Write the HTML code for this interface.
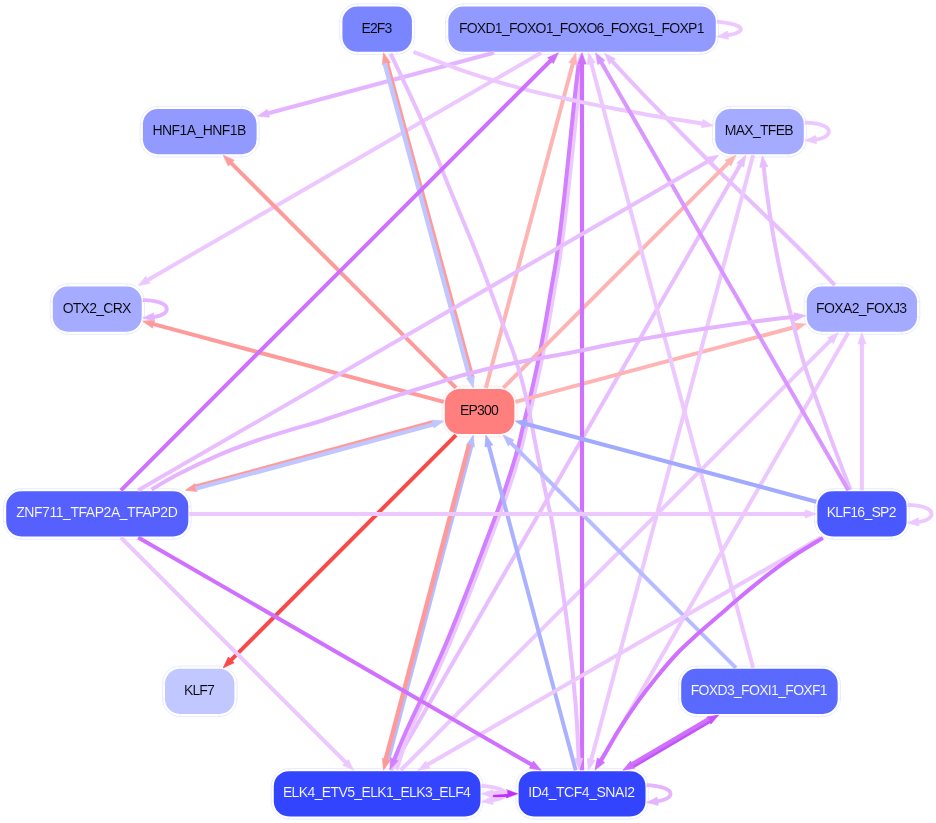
<!DOCTYPE html>
<html><head><meta charset="utf-8"><title>TF network</title>
<style>
html,body{margin:0;padding:0;background:#fff}
svg{display:block}
text{font-family:"Liberation Sans",sans-serif;font-size:14px;text-anchor:middle}
</style></head><body>
<svg width="936" height="823" viewBox="0 0 936 823">
<rect width="936" height="823" fill="#fff"/>
<defs><filter id="aa" x="0" y="0" width="100%" height="100%" filterUnits="userSpaceOnUse" color-interpolation-filters="sRGB"><feOffset dx="0" dy="0"/></filter></defs>
<g filter="url(#aa)">
<rect x="339.7" y="3.8" width="75.0" height="50.7" rx="18.2" fill="none" stroke="#E4E6FF" stroke-width="0.8"/>
<rect x="342.4" y="6.6" width="69.5" height="45.2" rx="15" fill="#7A86FF"/>
<path d="M357.4 3.8V6.6 M357.4 51.8V54.5 M396.9 3.8V6.6 M396.9 51.8V54.5 M339.7 21.6H342.4 M411.9 21.6H414.7 M339.7 36.8H342.4 M411.9 36.8H414.7" stroke="#E4E6FF" stroke-width="0.7" fill="none"/>
<text x="376.9" y="32.6" fill="#000" stroke="#7A86FF" stroke-width="0.12" textLength="30.8" lengthAdjust="spacing">E2F3</text>
<rect x="445.5" y="3.8" width="273.0" height="50.7" rx="18.2" fill="none" stroke="#E4E6FF" stroke-width="0.8"/>
<rect x="448.3" y="6.6" width="267.5" height="45.2" rx="15" fill="#929AFF"/>
<path d="M463.3 3.8V6.6 M463.3 51.8V54.5 M700.8 3.8V6.6 M700.8 51.8V54.5 M445.5 21.6H448.3 M715.8 21.6H718.5 M445.5 36.8H448.3 M715.8 36.8H718.5" stroke="#E4E6FF" stroke-width="0.7" fill="none"/>
<text x="581.7" y="32.6" fill="#000" stroke="#929AFF" stroke-width="0.12" textLength="245.6" lengthAdjust="spacing">FOXD1_FOXO1_FOXO6_FOXG1_FOXP1</text>
<rect x="712.4" y="106.3" width="94.1" height="50.7" rx="18.2" fill="none" stroke="#E4E6FF" stroke-width="0.8"/>
<rect x="715.2" y="109.0" width="88.6" height="45.2" rx="15" fill="#A5ACFF"/>
<path d="M730.2 106.3V109.0 M730.2 154.2V157.0 M788.8 106.3V109.0 M788.8 154.2V157.0 M712.4 124.0H715.2 M803.8 124.0H806.5 M712.4 139.2H715.2 M803.8 139.2H806.5" stroke="#E4E6FF" stroke-width="0.7" fill="none"/>
<text x="759.2" y="135.0" fill="#000" stroke="#A5ACFF" stroke-width="0.12" textLength="68.8" lengthAdjust="spacing">MAX_TFEB</text>
<rect x="804.1" y="283.7" width="115.7" height="50.7" rx="18.2" fill="none" stroke="#E4E6FF" stroke-width="0.8"/>
<rect x="806.8" y="286.5" width="110.2" height="45.2" rx="15" fill="#A3AAFF"/>
<path d="M821.8 283.7V286.5 M821.8 331.7V334.4 M902.0 283.7V286.5 M902.0 331.7V334.4 M804.1 301.5H806.8 M917.0 301.5H919.8 M804.1 316.7H806.8 M917.0 316.7H919.8" stroke="#E4E6FF" stroke-width="0.7" fill="none"/>
<text x="861.6" y="312.5" fill="#000" stroke="#A3AAFF" stroke-width="0.12" textLength="91.1" lengthAdjust="spacing">FOXA2_FOXJ3</text>
<rect x="814.5" y="488.6" width="94.8" height="50.7" rx="18.2" fill="none" stroke="#E4E6FF" stroke-width="0.8"/>
<rect x="817.3" y="491.3" width="89.3" height="45.2" rx="15" fill="#4A58FF"/>
<path d="M832.3 488.6V491.3 M832.3 536.5V539.3 M891.6 488.6V491.3 M891.6 536.5V539.3 M814.5 506.3H817.3 M906.6 506.3H909.3 M814.5 521.5H817.3 M906.6 521.5H909.3" stroke="#E4E6FF" stroke-width="0.7" fill="none"/>
<text x="861.6" y="517.3" fill="#fff" stroke="#4A58FF" stroke-width="0.12" textLength="69.8" lengthAdjust="spacing">KLF16_SP2</text>
<rect x="678.5" y="666.0" width="162.0" height="50.7" rx="18.2" fill="none" stroke="#E4E6FF" stroke-width="0.8"/>
<rect x="681.2" y="668.8" width="156.5" height="45.2" rx="15" fill="#5A6AFF"/>
<path d="M696.2 666.0V668.8 M696.2 714.0V716.7 M822.7 666.0V668.8 M822.7 714.0V716.7 M678.5 683.8H681.2 M837.7 683.8H840.5 M678.5 699.0H681.2 M837.7 699.0H840.5" stroke="#E4E6FF" stroke-width="0.7" fill="none"/>
<text x="759.2" y="694.8" fill="#fff" stroke="#5A6AFF" stroke-width="0.12" textLength="136.9" lengthAdjust="spacing">FOXD3_FOXI1_FOXF1</text>
<rect x="515.8" y="768.5" width="132.4" height="50.7" rx="18.2" fill="none" stroke="#E4E6FF" stroke-width="0.8"/>
<rect x="518.6" y="771.2" width="126.9" height="45.2" rx="15" fill="#3344FF"/>
<path d="M533.6 768.5V771.2 M533.6 816.4V819.2 M630.5 768.5V771.2 M630.5 816.4V819.2 M515.8 786.2H518.6 M645.5 786.2H648.2 M515.8 801.4H518.6 M645.5 801.4H648.2" stroke="#E4E6FF" stroke-width="0.7" fill="none"/>
<text x="581.7" y="797.2" fill="#fff" stroke="#3344FF" stroke-width="0.12" textLength="106.8" lengthAdjust="spacing">ID4_TCF4_SNAI2</text>
<rect x="271.1" y="768.5" width="212.2" height="50.7" rx="18.2" fill="none" stroke="#E4E6FF" stroke-width="0.8"/>
<rect x="273.8" y="771.2" width="206.7" height="45.2" rx="15" fill="#3344FF"/>
<path d="M288.8 768.5V771.2 M288.8 816.4V819.2 M465.5 768.5V771.2 M465.5 816.4V819.2 M271.1 786.2H273.8 M480.5 786.2H483.3 M271.1 801.4H273.8 M480.5 801.4H483.3" stroke="#E4E6FF" stroke-width="0.7" fill="none"/>
<text x="376.9" y="797.2" fill="#fff" stroke="#3344FF" stroke-width="0.12" textLength="188.0" lengthAdjust="spacing">ELK4_ETV5_ELK1_ELK3_ELF4</text>
<rect x="162.3" y="666.0" width="74.9" height="50.7" rx="18.2" fill="none" stroke="#E4E6FF" stroke-width="0.8"/>
<rect x="165.0" y="668.8" width="69.4" height="45.2" rx="15" fill="#C1C8FF"/>
<path d="M180.0 666.0V668.8 M180.0 714.0V716.7 M219.4 666.0V668.8 M219.4 714.0V716.7 M162.3 683.8H165.0 M234.4 683.8H237.2 M162.3 699.0H165.0 M234.4 699.0H237.2" stroke="#E4E6FF" stroke-width="0.7" fill="none"/>
<text x="199.4" y="694.8" fill="#000" stroke="#C1C8FF" stroke-width="0.12" textLength="30.7" lengthAdjust="spacing">KLF7</text>
<rect x="3.5" y="488.6" width="187.6" height="50.7" rx="18.2" fill="none" stroke="#E4E6FF" stroke-width="0.8"/>
<rect x="6.2" y="491.3" width="182.1" height="45.2" rx="15" fill="#5560FF"/>
<path d="M21.2 488.6V491.3 M21.2 536.5V539.3 M173.3 488.6V491.3 M173.3 536.5V539.3 M3.5 506.3H6.2 M188.3 506.3H191.1 M3.5 521.5H6.2 M188.3 521.5H191.1" stroke="#E4E6FF" stroke-width="0.7" fill="none"/>
<text x="97.0" y="517.3" fill="#fff" stroke="#5560FF" stroke-width="0.12" textLength="161.5" lengthAdjust="spacing">ZNF711_TFAP2A_TFAP2D</text>
<rect x="50.1" y="283.7" width="94.4" height="50.7" rx="18.2" fill="none" stroke="#E4E6FF" stroke-width="0.8"/>
<rect x="52.8" y="286.5" width="88.9" height="45.2" rx="15" fill="#A5ACFF"/>
<path d="M67.8 283.7V286.5 M67.8 331.7V334.4 M126.7 283.7V286.5 M126.7 331.7V334.4 M50.1 301.5H52.8 M141.7 301.5H144.5 M50.1 316.7H52.8 M141.7 316.7H144.5" stroke="#E4E6FF" stroke-width="0.7" fill="none"/>
<text x="97.0" y="312.5" fill="#000" stroke="#A5ACFF" stroke-width="0.12" textLength="68.7" lengthAdjust="spacing">OTX2_CRX</text>
<rect x="140.1" y="106.3" width="119.2" height="50.7" rx="18.2" fill="none" stroke="#E4E6FF" stroke-width="0.8"/>
<rect x="142.9" y="109.0" width="113.7" height="45.2" rx="15" fill="#929AFF"/>
<path d="M157.9 106.3V109.0 M157.9 154.2V157.0 M241.6 106.3V109.0 M241.6 154.2V157.0 M140.1 124.0H142.9 M256.6 124.0H259.3 M140.1 139.2H142.9 M256.6 139.2H259.3" stroke="#E4E6FF" stroke-width="0.7" fill="none"/>
<text x="199.4" y="135.0" fill="#000" stroke="#929AFF" stroke-width="0.12" textLength="94.0" lengthAdjust="spacing">HNF1A_HNF1B</text>
<rect x="442.1" y="386.1" width="75.1" height="50.7" rx="18.2" fill="none" stroke="#FFE2E2" stroke-width="0.8"/>
<rect x="444.8" y="388.9" width="69.6" height="45.2" rx="15" fill="#FF7F7F"/>
<path d="M459.8 386.1V388.9 M459.8 434.1V436.9 M499.4 386.1V388.9 M499.4 434.1V436.9 M442.1 403.9H444.8 M514.4 403.9H517.1 M442.1 419.1H444.8 M514.4 419.1H517.1" stroke="#FFE2E2" stroke-width="0.7" fill="none"/>
<text x="479.3" y="414.9" fill="#000" stroke="#FF7F7F" stroke-width="0.12" textLength="38.8" lengthAdjust="spacing">EP300</text>
</g>
<g stroke-linecap="butt">
<polyline points="481.5,785.8 483.4,786.0 485.3,786.2 487.1,786.4 488.8,786.6 490.4,786.9 492.0,787.2 493.5,787.4 494.9,787.7 496.3,788.1 497.5,788.4 498.7,788.7 499.8,789.1 500.8,789.5 501.7,789.9 502.6,790.3 503.3,790.7 503.9,791.2 504.5,791.6 504.9,792.1 505.2,792.6 505.4,793.1 505.5,793.6 505.5,794.1 505.4,794.6 505.2,795.1 504.8,795.6 504.4,796.1 503.8,796.5 503.2,797.0 502.4,797.4 501.6,797.8 500.7,798.2 499.6,798.6 498.5,799.0 497.3,799.3 496.0,799.6 494.7,799.9 493.2,800.2 492.0,800.5" stroke="#ECC8FF" stroke-width="3.80" fill="none" stroke-linejoin="round"/>
<polygon points="481.5,801.8 492.1,796.3 493.2,804.4" fill="#ECC8FF" stroke="#ECC8FF" stroke-width="0.7" stroke-linejoin="miter"/>
<polygon points="473.3,435.1 474.3,447.0 466.4,444.9" fill="#B6BCFF" stroke="#B6BCFF" stroke-width="0.7" stroke-linejoin="miter"/>
<path d="M388.0 760.9 L471.6 445.2" stroke="#B6BCFF" stroke-width="4.00" fill="none"/>
<path d="M390.8 770.2 L740.7 164.1" stroke="#E8BEFF" stroke-width="4.00" fill="none"/>
<polygon points="745.8,155.2 743.8,167.0 736.7,162.9" fill="#E8BEFF" stroke="#E8BEFF" stroke-width="0.7" stroke-linejoin="miter"/>
<path d="M400.8 770.2 L831.1 339.9" stroke="#ECC8FF" stroke-width="4.00" fill="none"/>
<polygon points="838.3,332.7 833.3,343.5 827.5,337.7" fill="#ECC8FF" stroke="#ECC8FF" stroke-width="0.7" stroke-linejoin="miter"/>
<polygon points="580.6,53.5 584.0,64.9 575.8,64.4" fill="#ECC8FF" stroke="#ECC8FF" stroke-width="0.7" stroke-linejoin="miter"/>
<path d="M396.6 769.6 C398.7 763.4 403.8 745.6 409.3 732.1 C414.8 718.5 423.1 702.9 429.7 688.3 C436.3 673.7 442.9 659.2 449.1 644.6 C455.3 630.0 460.6 616.2 466.7 600.8 C472.8 585.4 479.2 568.4 485.4 552.2 C491.5 536.0 497.9 519.8 503.6 503.6 C509.3 487.4 515.7 467.7 519.4 455.1 C523.1 442.5 523.7 437.4 526.0 428.0 C528.3 418.6 530.7 409.8 533.2 398.8 C535.8 387.8 538.8 374.4 541.3 362.2 C543.8 350.0 546.0 337.9 548.2 325.8 C550.4 313.7 552.4 301.6 554.5 289.4 C556.6 277.2 558.4 268.3 560.6 252.8 C562.8 237.3 564.7 222.0 567.6 196.4 C570.5 170.8 575.7 121.4 577.8 99.3 C579.9 77.2 579.6 69.6 580.0 63.7" stroke="#ECC8FF" stroke-width="4.00" fill="none"/>
<polygon points="517.6,793.8 506.4,797.9 506.4,789.7" fill="#C030F8" stroke="#C030F8" stroke-width="0.7" stroke-linejoin="miter"/>
<path d="M491.7 795.6 L507.4 794.7" stroke="#C030F8" stroke-width="4.00" fill="none"/>
<polyline points="716.9,21.7 719.0,21.9 721.1,22.1 723.1,22.4 725.0,22.7 726.8,23.0 728.5,23.3 730.2,23.6 731.7,23.9 733.1,24.3 734.4,24.7 735.6,25.0 736.7,25.5 737.6,25.9 738.5,26.3 739.2,26.8 739.8,27.2 740.2,27.7 740.6,28.2 740.7,28.7 740.8,29.2 740.7,29.7 740.5,30.2 740.2,30.7 739.7,31.2 739.1,31.7 738.3,32.1 737.5,32.6 736.5,33.0 735.4,33.4 734.2,33.8 732.9,34.1 731.4,34.5 729.9,34.8 728.3,35.2 727.1,35.4" stroke="#ECC8FF" stroke-width="3.80" fill="none" stroke-linejoin="round"/>
<polygon points="716.9,36.7 727.4,31.1 728.5,39.3" fill="#ECC8FF" stroke="#ECC8FF" stroke-width="0.7" stroke-linejoin="miter"/>
<path d="M541.2 52.8 L147.0 280.4" stroke="#ECC8FF" stroke-width="4.00" fill="none"/>
<polygon points="138.2,285.5 145.8,276.3 149.9,283.4" fill="#ECC8FF" stroke="#ECC8FF" stroke-width="0.7" stroke-linejoin="miter"/>
<path d="M494.0 52.8 L267.4 113.5" stroke="#E4B4FF" stroke-width="4.00" fill="none"/>
<polygon points="257.6,116.1 267.3,109.3 269.5,117.2" fill="#E4B4FF" stroke="#E4B4FF" stroke-width="0.7" stroke-linejoin="miter"/>
<polygon points="389.9,769.6 390.5,757.7 398.0,760.9" fill="#D280FF" stroke="#D280FF" stroke-width="0.7" stroke-linejoin="miter"/>
<path d="M578.6 64.5 C577.9 70.2 577.0 76.7 574.6 98.5 C572.2 120.3 567.3 170.0 564.4 195.6 C561.5 221.2 559.6 236.5 557.4 252.0 C555.2 267.5 553.4 276.4 551.3 288.6 C549.2 300.8 547.2 312.9 545.0 325.0 C542.8 337.1 540.6 349.2 538.1 361.4 C535.6 373.6 532.5 387.0 530.0 398.0 C527.5 409.0 525.1 417.8 522.8 427.2 C520.5 436.6 519.9 441.7 516.2 454.3 C512.5 466.9 506.1 486.6 500.4 502.8 C494.7 519.0 488.3 535.2 482.2 551.4 C476.1 567.6 469.6 584.6 463.5 600.0 C457.4 615.4 452.1 629.2 445.9 643.8 C439.7 658.4 433.1 672.9 426.5 687.5 C419.9 702.1 411.5 719.2 406.1 731.3 C400.7 743.4 395.9 755.4 393.9 760.2" stroke="#D280FF" stroke-width="4.00" fill="none"/>
<path d="M848.3 332.7 L600.8 761.4" stroke="#ECC8FF" stroke-width="4.00" fill="none"/>
<polygon points="595.7,770.2 597.7,758.5 604.8,762.6" fill="#ECC8FF" stroke="#ECC8FF" stroke-width="0.7" stroke-linejoin="miter"/>
<polygon points="604.6,53.3 615.3,58.7 609.3,64.3" fill="#E8BEFF" stroke="#E8BEFF" stroke-width="0.7" stroke-linejoin="miter"/>
<path d="M834.8 285.1 C828.4 278.6 809.4 258.8 796.6 246.0 C783.8 233.2 770.8 220.8 757.8 208.3 C744.8 195.8 730.6 182.6 718.9 171.1 C707.2 159.6 698.9 151.0 687.5 139.5 C676.1 128.0 661.0 112.6 650.8 102.1 C640.6 91.6 633.0 83.5 626.5 76.6 C620.0 69.7 614.1 63.4 611.6 60.7" stroke="#E8BEFF" stroke-width="4.00" fill="none"/>
<polygon points="383.5,770.2 382.4,758.3 390.3,760.5" fill="#FF9A9A" stroke="#FF9A9A" stroke-width="0.7" stroke-linejoin="miter"/>
<path d="M469.1 444.5 L385.4 760.2" stroke="#FF9A9A" stroke-width="4.40" fill="none"/>
<polygon points="383.5,52.8 390.3,62.5 382.4,64.7" fill="#FF9A9A" stroke="#FF9A9A" stroke-width="0.7" stroke-linejoin="miter"/>
<path d="M472.5 377.6 L387.0 62.4" stroke="#FF9A9A" stroke-width="4.00" fill="none"/>
<polygon points="185.4,490.3 195.1,483.5 197.2,491.4" fill="#FF9A9A" stroke="#FF9A9A" stroke-width="0.7" stroke-linejoin="miter"/>
<path d="M433.5 422.0 L195.0 486.8" stroke="#FF9A9A" stroke-width="4.00" fill="none"/>
<path d="M456.0 387.9 L230.5 162.4" stroke="#FF9A9A" stroke-width="4.00" fill="none"/>
<polygon points="223.3,155.2 234.1,160.2 228.3,166.0" fill="#FF9A9A" stroke="#FF9A9A" stroke-width="0.7" stroke-linejoin="miter"/>
<path d="M443.8 401.9 L152.6 323.9" stroke="#FF9A9A" stroke-width="4.00" fill="none"/>
<polygon points="142.7,321.2 154.6,320.2 152.5,328.1" fill="#FF9A9A" stroke="#FF9A9A" stroke-width="0.7" stroke-linejoin="miter"/>
<path d="M485.9 387.9 L573.1 62.6" stroke="#FFB4B4" stroke-width="4.00" fill="none"/>
<polygon points="575.7,52.8 576.8,64.7 568.9,62.5" fill="#FFB4B4" stroke="#FFB4B4" stroke-width="0.7" stroke-linejoin="miter"/>
<path d="M503.2 387.9 L728.7 162.4" stroke="#FFB4B4" stroke-width="4.00" fill="none"/>
<polygon points="735.9,155.2 730.9,166.0 725.1,160.2" fill="#FFB4B4" stroke="#FFB4B4" stroke-width="0.7" stroke-linejoin="miter"/>
<path d="M515.4 401.9 L796.0 326.7" stroke="#FFB4B4" stroke-width="4.00" fill="none"/>
<polygon points="805.8,324.1 796.1,331.0 793.9,323.0" fill="#FFB4B4" stroke="#FFB4B4" stroke-width="0.7" stroke-linejoin="miter"/>
<path d="M456.0 435.1 L230.5 660.6" stroke="#F84A4A" stroke-width="4.00" fill="none"/>
<polygon points="223.3,667.8 228.3,657.0 234.1,662.8" fill="#F84A4A" stroke="#F84A4A" stroke-width="0.7" stroke-linejoin="miter"/>
<polyline points="646.6,785.1 648.1,785.2 649.6,785.3 651.0,785.4 652.4,785.6 653.7,785.8 655.1,785.9 656.3,786.1 657.6,786.4 658.8,786.6 659.9,786.8 661.0,787.1 662.0,787.4 663.0,787.7 664.0,788.0 664.9,788.3 665.7,788.7 666.4,789.0 667.2,789.4 667.8,789.8 668.4,790.2 668.9,790.6 669.3,791.1 669.7,791.5 670.0,792.0 670.2,792.5 670.4,793.0 670.5,793.5 670.5,794.0 670.4,794.5 670.3,795.0 670.1,795.5 669.8,796.0 669.4,796.5 669.0,796.9 668.5,797.3 667.9,797.8 667.3,798.1 666.6,798.5 665.8,798.9 665.0,799.2 664.1,799.6 663.2,799.9 662.2,800.2 661.2,800.5 660.1,800.7 659.0,801.0 657.8,801.2 657.2,801.3" stroke="#E4B4FF" stroke-width="3.80" fill="none" stroke-linejoin="round"/>
<polygon points="646.6,802.5 657.2,797.2 658.2,805.3" fill="#E4B4FF" stroke="#E4B4FF" stroke-width="0.7" stroke-linejoin="miter"/>
<path d="M582.0 770.2 L582.0 63.0" stroke="#CF70FF" stroke-width="4.20" fill="none"/>
<polygon points="582.0,52.8 586.1,64.0 577.9,64.0" fill="#CF70FF" stroke="#CF70FF" stroke-width="0.7" stroke-linejoin="miter"/>
<path d="M575.7 770.2 L488.6 445.0" stroke="#AAB2FF" stroke-width="4.00" fill="none"/>
<polygon points="485.9,435.1 492.8,444.9 484.9,447.0" fill="#AAB2FF" stroke="#AAB2FF" stroke-width="0.7" stroke-linejoin="miter"/>
<polygon points="481.5,793.8 492.7,789.7 492.7,797.9" fill="#ECC8FF" stroke="#ECC8FF" stroke-width="0.7" stroke-linejoin="miter"/>
<path d="M507.4 792.0 L491.7 792.9" stroke="#ECC8FF" stroke-width="4.00" fill="none"/>
<polygon points="718.6,715.0 710.9,724.1 706.8,717.0" fill="#C452FA" stroke="#C452FA" stroke-width="0.7" stroke-linejoin="miter"/>
<path d="M632.6 766.5 L710.2 720.8" stroke="#C452FA" stroke-width="4.00" fill="none"/>
<polyline points="804.9,122.6 806.2,122.7 807.4,122.7 808.7,122.8 809.9,122.9 811.0,123.0 812.2,123.1 813.3,123.2 814.4,123.4 815.5,123.5 816.5,123.7 817.5,123.9 818.5,124.1 819.4,124.4 820.3,124.6 821.2,124.9 822.0,125.2 822.8,125.4 823.5,125.8 824.2,126.1 824.9,126.4 825.5,126.8 826.1,127.2 826.6,127.6 827.0,128.0 827.5,128.4 827.8,128.8 828.1,129.3 828.4,129.8 828.6,130.2 828.7,130.7 828.8,131.3 828.8,131.7 828.7,132.2 828.6,132.8 828.5,133.3 828.2,133.7 828.0,134.2 827.6,134.6 827.3,135.1 826.8,135.5 826.3,135.9 825.8,136.3 825.2,136.6 824.6,137.0 823.9,137.3 823.2,137.7 822.4,138.0 821.6,138.2 820.8,138.5 819.9,138.8 819.0,139.0 818.0,139.2 817.0,139.4 816.0,139.6 815.6,139.7" stroke="#ECC8FF" stroke-width="3.80" fill="none" stroke-linejoin="round"/>
<polygon points="804.9,140.6 815.7,135.5 816.5,143.7" fill="#ECC8FF" stroke="#ECC8FF" stroke-width="0.7" stroke-linejoin="miter"/>
<path d="M753.1 155.2 L591.0 760.4" stroke="#ECC8FF" stroke-width="4.00" fill="none"/>
<polygon points="588.4,770.2 587.3,758.3 595.2,760.5" fill="#ECC8FF" stroke="#ECC8FF" stroke-width="0.7" stroke-linejoin="miter"/>
<polyline points="142.8,300.1 144.1,300.1 145.4,300.2 146.6,300.2 147.8,300.3 149.0,300.4 150.1,300.5 151.2,300.7 152.3,300.8 153.4,301.0 154.4,301.2 155.5,301.4 156.4,301.6 157.4,301.8 158.3,302.0 159.1,302.3 160.0,302.6 160.8,302.9 161.5,303.2 162.2,303.5 162.9,303.9 163.5,304.2 164.0,304.6 164.5,305.0 165.0,305.4 165.4,305.8 165.8,306.3 166.1,306.7 166.3,307.2 166.5,307.7 166.7,308.2 166.7,308.7 166.7,309.1 166.7,309.7 166.6,310.2 166.4,310.7 166.2,311.2 165.9,311.6 165.6,312.1 165.2,312.5 164.8,312.9 164.3,313.3 163.8,313.7 163.2,314.1 162.5,314.4 161.9,314.8 161.1,315.1 160.4,315.4 159.6,315.7 158.7,315.9 157.8,316.2 156.9,316.4 155.9,316.7 155.0,316.9 153.9,317.0 153.6,317.1" stroke="#E4B4FF" stroke-width="3.80" fill="none" stroke-linejoin="round"/>
<polygon points="142.8,318.0 153.6,312.9 154.4,321.1" fill="#E4B4FF" stroke="#E4B4FF" stroke-width="0.7" stroke-linejoin="miter"/>
<polygon points="473.3,387.9 466.4,378.1 474.3,376.0" fill="#C0C6FF" stroke="#C0C6FF" stroke-width="0.7" stroke-linejoin="miter"/>
<path d="M384.6 63.1 L469.9 378.3" stroke="#C0C6FF" stroke-width="4.40" fill="none"/>
<polygon points="713.2,125.6 701.5,127.7 702.9,119.6" fill="#ECC8FF" stroke="#ECC8FF" stroke-width="0.7" stroke-linejoin="miter"/>
<path d="M413.5 51.9 C420.9 54.7 443.9 63.9 457.7 68.8 C471.5 73.7 483.4 77.4 496.2 81.3 C509.0 85.2 520.8 88.5 534.6 91.9 C548.4 95.3 565.4 98.7 579.2 101.6 C593.1 104.5 604.9 106.8 617.7 109.2 C630.5 111.6 643.4 114.0 656.2 116.2 C669.0 118.4 686.8 121.0 694.6 122.3 C702.4 123.6 701.7 123.6 703.2 123.8" stroke="#ECC8FF" stroke-width="4.00" fill="none"/>
<polygon points="579.3,769.7 574.6,758.7 582.8,758.3" fill="#E8BEFF" stroke="#E8BEFF" stroke-width="0.7" stroke-linejoin="miter"/>
<path d="M390.6 53.6 C396.0 65.2 412.7 99.7 422.8 122.9 C432.9 146.1 441.9 169.7 451.5 193.0 C461.1 216.3 471.3 240.1 480.2 262.9 C489.1 285.7 499.3 314.8 504.9 330.0 C510.5 345.2 511.3 346.2 514.0 354.3 C516.7 362.4 519.1 370.5 521.3 378.6 C523.5 386.7 525.6 394.8 527.4 402.9 C529.2 411.0 530.7 419.3 532.2 427.2 C533.7 435.1 535.0 442.0 536.6 450.0 C538.2 458.0 540.1 466.7 541.9 475.0 C543.7 483.3 545.4 491.7 547.2 500.0 C549.0 508.3 550.5 512.8 552.6 525.0 C554.8 537.2 557.4 554.5 560.1 573.0 C562.8 591.5 566.2 614.1 568.8 636.2 C571.4 658.3 574.0 684.9 575.7 705.5 C577.4 726.1 578.2 750.5 578.7 759.5" stroke="#E8BEFF" stroke-width="4.00" fill="none"/>
<path d="M735.9 667.8 L510.4 442.3" stroke="#B6BCFF" stroke-width="4.00" fill="none"/>
<polygon points="503.2,435.1 514.0,440.1 508.2,445.9" fill="#B6BCFF" stroke="#B6BCFF" stroke-width="0.7" stroke-linejoin="miter"/>
<path d="M753.1 667.8 L591.0 62.6" stroke="#ECC8FF" stroke-width="4.00" fill="none"/>
<polygon points="588.4,52.8 595.2,62.5 587.3,64.7" fill="#ECC8FF" stroke="#ECC8FF" stroke-width="0.7" stroke-linejoin="miter"/>
<polygon points="622.9,770.2 630.6,761.1 634.7,768.2" fill="#CF70FF" stroke="#CF70FF" stroke-width="0.7" stroke-linejoin="miter"/>
<path d="M709.0 718.7 L631.4 764.4" stroke="#CF70FF" stroke-width="4.00" fill="none"/>
<polyline points="907.6,505.0 908.9,505.0 910.1,505.0 911.3,505.1 912.6,505.2 913.7,505.3 914.9,505.4 916.0,505.5 917.1,505.7 918.2,505.9 919.2,506.0 920.3,506.2 921.2,506.5 922.2,506.7 923.1,506.9 923.9,507.2 924.8,507.5 925.6,507.8 926.3,508.1 927.0,508.4 927.7,508.7 928.3,509.1 928.8,509.5 929.4,509.9 929.8,510.3 930.2,510.7 930.6,511.1 930.9,511.6 931.2,512.1 931.3,512.6 931.5,513.1 931.5,513.6 931.6,514.0 931.5,514.6 931.4,515.1 931.3,515.6 931.0,516.0 930.8,516.5 930.4,517.0 930.0,517.4 929.6,517.8 929.1,518.2 928.6,518.6 928.0,519.0 927.3,519.3 926.7,519.6 925.9,520.0 925.2,520.3 924.4,520.6 923.5,520.8 922.6,521.1 921.7,521.3 920.7,521.5 919.8,521.7 918.7,521.9 918.4,522.0" stroke="#ECC8FF" stroke-width="3.80" fill="none" stroke-linejoin="round"/>
<polygon points="907.6,522.9 918.4,517.8 919.1,526.0" fill="#ECC8FF" stroke="#ECC8FF" stroke-width="0.7" stroke-linejoin="miter"/>
<path d="M861.9 490.3 L861.9 342.9" stroke="#ECC8FF" stroke-width="4.00" fill="none"/>
<polygon points="861.9,332.7 866.0,343.9 857.8,343.9" fill="#ECC8FF" stroke="#ECC8FF" stroke-width="0.7" stroke-linejoin="miter"/>
<path d="M821.0 537.5 L426.9 765.1" stroke="#ECC8FF" stroke-width="4.00" fill="none"/>
<polygon points="418.0,770.2 425.7,761.1 429.8,768.2" fill="#ECC8FF" stroke="#ECC8FF" stroke-width="0.7" stroke-linejoin="miter"/>
<polygon points="762.4,155.8 767.8,166.4 759.7,167.4" fill="#E8BEFF" stroke="#E8BEFF" stroke-width="0.7" stroke-linejoin="miter"/>
<path d="M850.4 489.9 C846.4 479.3 833.9 447.1 826.4 426.6 C818.9 406.1 810.8 384.7 805.1 367.0 C799.4 349.3 796.2 335.1 792.3 320.2 C788.4 305.3 784.9 291.9 781.7 277.7 C778.5 263.5 775.7 249.3 773.2 235.1 C770.7 220.9 768.4 204.1 766.8 192.6 C765.2 181.1 764.1 170.4 763.6 165.9" stroke="#E8BEFF" stroke-width="4.00" fill="none"/>
<path d="M848.3 490.3 L600.8 61.6" stroke="#D996FF" stroke-width="4.00" fill="none"/>
<polygon points="595.7,52.8 604.8,60.4 597.7,64.5" fill="#D996FF" stroke="#D996FF" stroke-width="0.7" stroke-linejoin="miter"/>
<polygon points="595.0,769.7 597.4,758.0 604.4,762.4" fill="#CF70FF" stroke="#CF70FF" stroke-width="0.7" stroke-linejoin="miter"/>
<path d="M822.9 537.9 C818.5 540.6 804.2 549.0 796.6 554.0 C789.0 559.0 783.7 562.8 777.2 567.6 C770.7 572.4 764.3 577.4 757.8 582.6 C751.3 587.8 744.8 593.2 738.3 598.7 C731.8 604.2 725.9 609.5 718.9 615.6 C711.9 621.8 703.0 629.2 696.0 635.6 C689.0 642.0 683.1 647.2 676.6 654.0 C670.1 660.8 663.7 668.5 657.2 676.4 C650.7 684.3 644.3 692.5 637.8 701.6 C631.3 710.7 623.8 722.0 618.3 730.8 C612.8 739.5 607.7 749.1 604.7 754.1 C601.7 759.1 601.1 759.9 600.4 761.0" stroke="#CF70FF" stroke-width="4.00" fill="none"/>
<path d="M816.3 501.7 L525.3 423.7" stroke="#A2AAFF" stroke-width="4.00" fill="none"/>
<polygon points="515.4,421.1 527.3,420.0 525.2,428.0" fill="#A2AAFF" stroke="#A2AAFF" stroke-width="0.7" stroke-linejoin="miter"/>
<path d="M138.2 490.3 L709.8 160.3" stroke="#E8BEFF" stroke-width="4.00" fill="none"/>
<polygon points="718.6,155.2 710.9,164.4 706.8,157.3" fill="#E8BEFF" stroke="#E8BEFF" stroke-width="0.7" stroke-linejoin="miter"/>
<polygon points="805.5,315.6 794.8,321.0 793.9,312.8" fill="#E4B4FF" stroke="#E4B4FF" stroke-width="0.7" stroke-linejoin="miter"/>
<path d="M151.5 489.6 C156.0 487.0 167.6 479.6 178.5 474.0 C189.4 468.4 204.1 461.3 216.9 455.8 C229.7 450.3 242.6 445.5 255.4 441.0 C268.2 436.5 283.2 432.1 293.8 428.8 C304.4 425.6 308.6 424.9 319.2 421.5 C329.8 418.1 344.9 413.0 357.7 408.7 C370.5 404.4 383.4 399.9 396.2 395.8 C409.0 391.7 423.1 387.4 434.6 383.8 C446.2 380.2 453.2 377.8 465.5 374.5 C477.8 371.2 493.9 367.3 508.2 364.3 C522.5 361.3 539.0 358.6 551.0 356.3 C563.0 354.1 569.3 352.9 580.0 350.8 C590.7 348.7 603.4 345.7 615.3 343.5 C627.2 341.3 639.5 339.4 651.6 337.4 C663.7 335.3 675.9 333.1 688.0 331.2 C700.1 329.2 712.2 327.4 724.3 325.7 C736.4 324.0 748.8 322.3 760.6 320.8 C772.4 319.3 789.6 317.4 795.4 316.8" stroke="#E4B4FF" stroke-width="4.00" fill="none"/>
<path d="M189.3 513.9 L806.1 513.9" stroke="#ECC8FF" stroke-width="4.00" fill="none"/>
<polygon points="816.3,513.9 805.1,518.0 805.1,509.8" fill="#ECC8FF" stroke="#ECC8FF" stroke-width="0.7" stroke-linejoin="miter"/>
<path d="M120.9 537.5 L346.3 763.0" stroke="#ECC8FF" stroke-width="4.00" fill="none"/>
<polygon points="353.6,770.2 342.7,765.2 348.5,759.4" fill="#ECC8FF" stroke="#ECC8FF" stroke-width="0.7" stroke-linejoin="miter"/>
<path d="M120.9 490.3 L551.2 60.0" stroke="#CF70FF" stroke-width="4.00" fill="none"/>
<polygon points="558.4,52.8 553.4,63.6 547.6,57.8" fill="#CF70FF" stroke="#CF70FF" stroke-width="0.7" stroke-linejoin="miter"/>
<path d="M138.2 537.5 L532.3 765.1" stroke="#CF70FF" stroke-width="4.00" fill="none"/>
<polygon points="541.2,770.2 529.4,768.2 533.5,761.1" fill="#CF70FF" stroke="#CF70FF" stroke-width="0.7" stroke-linejoin="miter"/>
<polygon points="443.8,421.1 434.0,428.0 431.9,420.0" fill="#C0C6FF" stroke="#C0C6FF" stroke-width="0.7" stroke-linejoin="miter"/>
<path d="M195.5 488.8 L434.1 424.3" stroke="#C0C6FF" stroke-width="4.20" fill="none"/>
</g>
</svg>
</body></html>
